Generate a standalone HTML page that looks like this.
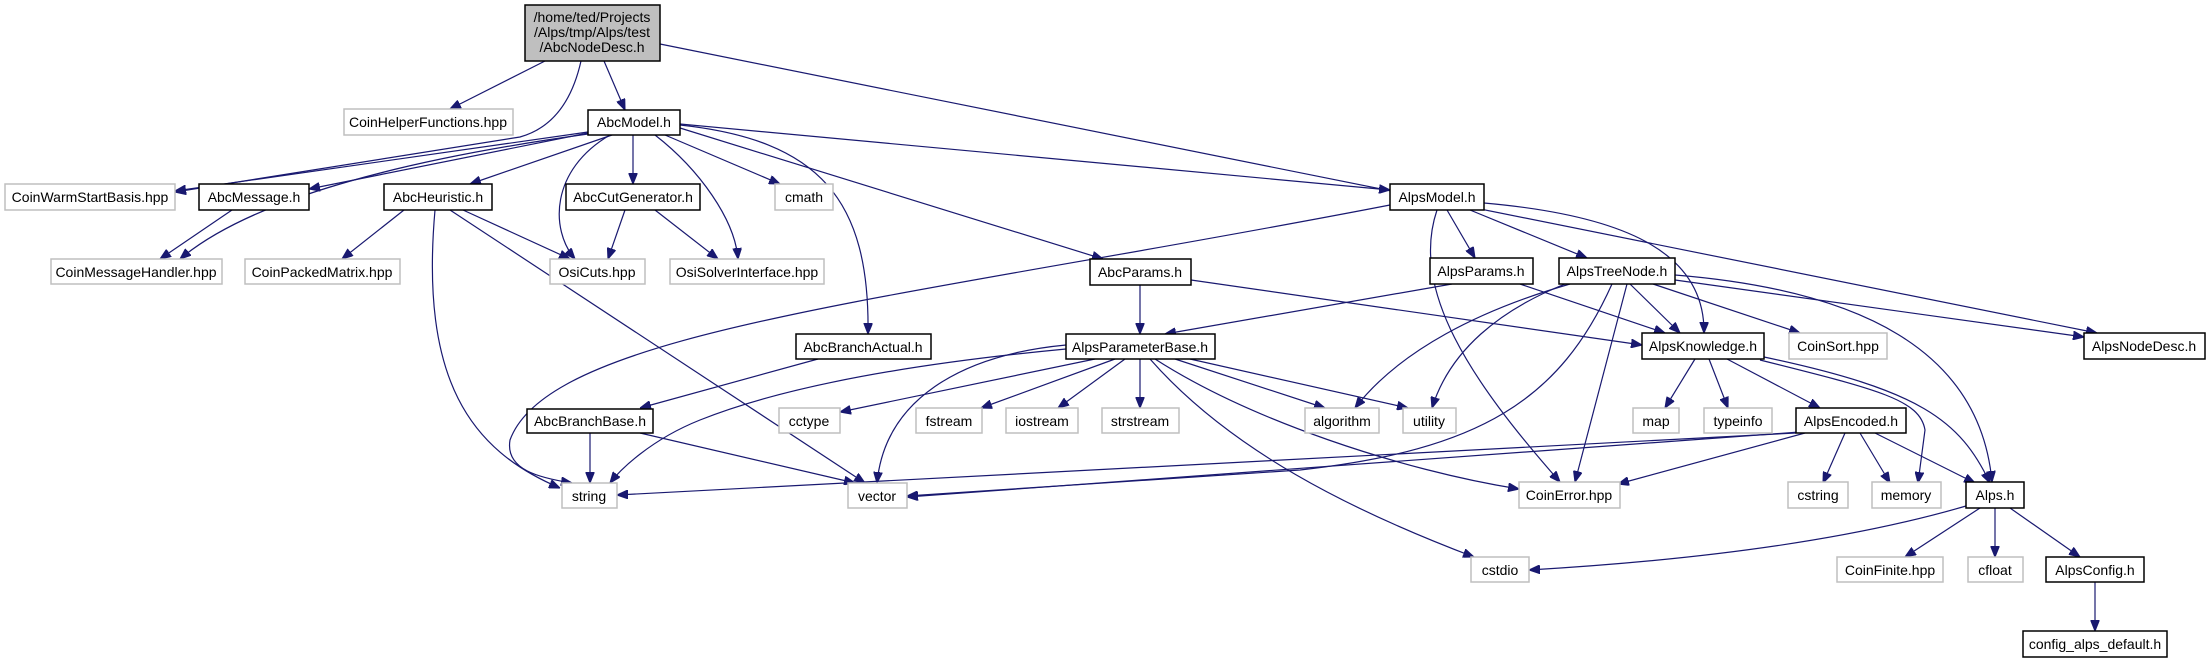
<!DOCTYPE html>
<html><head><meta charset="utf-8"><style>
html,body{margin:0;padding:0;background:#fff;}
svg{display:block;}
text{font-family:"Liberation Sans",Arial,sans-serif;font-size:14px;fill:#000;text-anchor:middle;}
.e{fill:none;stroke:#191970;stroke-width:1.2;marker-end:url(#a);}
.g{fill:#fff;stroke:#bfbfbf;stroke-width:1.5;}
.b{fill:#fff;stroke:#000;stroke-width:1.5;}
</style></head><body>
<svg width="2211" height="664" viewBox="0 0 2211 664" xmlns="http://www.w3.org/2000/svg">
<defs><marker id="a" viewBox="0 0 10 8" refX="10" refY="4" markerWidth="11" markerHeight="9" markerUnits="userSpaceOnUse" orient="auto"><path d="M0,0 L10,4 L0,8 z" fill="#191970" stroke="#191970"/></marker></defs>
<g>
<path class="e" d="M545,61 L450,109"/>
<path class="e" d="M604,61 L625,110"/>
<path class="e" d="M581,61 C570,110 545,130 520,137 L175,192"/>
<path class="e" d="M660,44 L2097,333"/>
<path class="e" d="M588,132 L175,191"/>
<path class="e" d="M588,133 L309,189"/>
<path class="e" d="M588,134 C400,160 250,200 180,259"/>
<path class="e" d="M612,135 L470,184"/>
<path class="e" d="M610,135 C550,170 550,230 575,259"/>
<path class="e" d="M633,135 L633,184"/>
<path class="e" d="M655,135 C700,170 735,220 738,259"/>
<path class="e" d="M665,135 L780,184"/>
<path class="e" d="M680,125 C820,140 870,200 868,334"/>
<path class="e" d="M680,128 L1103,259"/>
<path class="e" d="M680,124 L1390,190"/>
<path class="e" d="M232,210 L160,259"/>
<path class="e" d="M404,210 L342,259"/>
<path class="e" d="M463,210 L570,259"/>
<path class="e" d="M435,210 C420,380 470,450 560,488"/>
<path class="e" d="M450,210 L865,483"/>
<path class="e" d="M625,210 L608,259"/>
<path class="e" d="M655,210 L718,259"/>
<path class="e" d="M1390,205 C900,300 550,330 510,440 C505,470 540,478 572,483"/>
<path class="e" d="M1447,210 L1475,258"/>
<path class="e" d="M1470,210 L1587,258"/>
<path class="e" d="M1484,203 C1620,215 1705,250 1704,333"/>
<path class="e" d="M1437,210 C1410,290 1470,380 1560,482"/>
<path class="e" d="M1140,285 L1140,334"/>
<path class="e" d="M1191,280 L1642,345"/>
<path class="e" d="M1452,284 L1165,334"/>
<path class="e" d="M1520,284 L1665,333"/>
<path class="e" d="M818,359 L640,408"/>
<path class="e" d="M590,433 L590,483"/>
<path class="e" d="M640,433 L855,483"/>
<path class="e" d="M1066,349 C950,360 800,380 700,420 C650,440 620,470 610,483"/>
<path class="e" d="M1066,345 C960,355 885,400 877,483"/>
<path class="e" d="M1095,359 L840,412"/>
<path class="e" d="M1115,359 L981,408"/>
<path class="e" d="M1125,359 L1058,408"/>
<path class="e" d="M1140,359 L1140,408"/>
<path class="e" d="M1175,359 L1325,408"/>
<path class="e" d="M1190,359 L1408,408"/>
<path class="e" d="M1155,359 C1250,420 1400,470 1519,489"/>
<path class="e" d="M1150,359 C1230,450 1350,510 1474,557"/>
<path class="e" d="M1630,284 L1680,333"/>
<path class="e" d="M1653,284 L1800,333"/>
<path class="e" d="M1675,280 L2084,337"/>
<path class="e" d="M1675,275 C1860,290 1980,350 1992,482"/>
<path class="e" d="M1570,284 C1480,310 1400,350 1355,408"/>
<path class="e" d="M1565,284 C1500,310 1450,350 1432,408"/>
<path class="e" d="M1612,284 C1560,400 1480,450 1300,470 L907,496"/>
<path class="e" d="M1627,284 L1575,482"/>
<path class="e" d="M1695,359 L1665,408"/>
<path class="e" d="M1709,359 L1728,408"/>
<path class="e" d="M1727,359 L1820,408"/>
<path class="e" d="M1760,360 C1880,390 1920,400 1925,430 L1918,483"/>
<path class="e" d="M1764,357 C1920,390 1960,420 1990,483"/>
<path class="e" d="M1796,433 L617,495"/>
<path class="e" d="M1800,432 L907,497"/>
<path class="e" d="M1805,433 L1618,484"/>
<path class="e" d="M1845,433 L1823,483"/>
<path class="e" d="M1860,433 L1890,483"/>
<path class="e" d="M1875,433 L1975,483"/>
<path class="e" d="M1966,506 C1850,540 1700,560 1529,570"/>
<path class="e" d="M1980,508 L1905,557"/>
<path class="e" d="M1995,508 L1995,557"/>
<path class="e" d="M2010,508 L2080,557"/>
<path class="e" d="M2095,582 L2095,631"/>
</g>
<g>
<rect x="525" y="5" width="135" height="56" fill="#bfbfbf" stroke="#000" stroke-width="1.5"/>
<text x="592" y="22">/home/ted/Projects</text>
<text x="592" y="37">/Alps/tmp/Alps/test</text>
<text x="592" y="52">/AbcNodeDesc.h</text>

<rect class="g" x="344" y="109" width="169" height="26"/><text x="428" y="127">CoinHelperFunctions.hpp</text>
<rect class="b" x="588" y="110" width="92" height="25"/><text x="634" y="127">AbcModel.h</text>
<rect class="g" x="5" y="184" width="170" height="26"/><text x="90" y="202">CoinWarmStartBasis.hpp</text>
<rect class="b" x="199" y="184" width="110" height="26"/><text x="254" y="202">AbcMessage.h</text>
<rect class="b" x="384" y="184" width="108" height="26"/><text x="438" y="202">AbcHeuristic.h</text>
<rect class="b" x="566" y="184" width="134" height="26"/><text x="633" y="202">AbcCutGenerator.h</text>
<rect class="g" x="775" y="184" width="58" height="26"/><text x="804" y="202">cmath</text>
<rect class="b" x="1390" y="184" width="94" height="26"/><text x="1437" y="202">AlpsModel.h</text>

<rect class="g" x="51" y="259" width="171" height="25"/><text x="136" y="277">CoinMessageHandler.hpp</text>
<rect class="g" x="245" y="259" width="155" height="25"/><text x="322" y="277">CoinPackedMatrix.hpp</text>
<rect class="g" x="550" y="259" width="95" height="25"/><text x="597" y="277">OsiCuts.hpp</text>
<rect class="g" x="670" y="259" width="154" height="25"/><text x="747" y="277">OsiSolverInterface.hpp</text>
<rect class="b" x="1090" y="259" width="101" height="26"/><text x="1140" y="277">AbcParams.h</text>
<rect class="b" x="1430" y="258" width="103" height="26"/><text x="1481" y="276">AlpsParams.h</text>
<rect class="b" x="1559" y="258" width="116" height="26"/><text x="1617" y="276">AlpsTreeNode.h</text>

<rect class="b" x="796" y="334" width="135" height="25"/><text x="863" y="352">AbcBranchActual.h</text>
<rect class="b" x="1066" y="334" width="149" height="25"/><text x="1140" y="352">AlpsParameterBase.h</text>
<rect class="b" x="1642" y="333" width="122" height="26"/><text x="1703" y="351">AlpsKnowledge.h</text>
<rect class="g" x="1789" y="333" width="98" height="26"/><text x="1838" y="351">CoinSort.hpp</text>
<rect class="b" x="2084" y="333" width="121" height="26"/><text x="2144" y="351">AlpsNodeDesc.h</text>

<rect class="b" x="527" y="409" width="126" height="24"/><text x="590" y="426">AbcBranchBase.h</text>
<rect class="g" x="779" y="408" width="61" height="25"/><text x="809" y="426">cctype</text>
<rect class="g" x="916" y="408" width="66" height="25"/><text x="949" y="426">fstream</text>
<rect class="g" x="1006" y="408" width="72" height="25"/><text x="1042" y="426">iostream</text>
<rect class="g" x="1102" y="408" width="77" height="25"/><text x="1140" y="426">strstream</text>
<rect class="g" x="1305" y="408" width="74" height="25"/><text x="1342" y="426">algorithm</text>
<rect class="g" x="1403" y="408" width="53" height="25"/><text x="1429" y="426">utility</text>
<rect class="g" x="1633" y="408" width="46" height="25"/><text x="1656" y="426">map</text>
<rect class="g" x="1704" y="408" width="68" height="25"/><text x="1738" y="426">typeinfo</text>
<rect class="b" x="1796" y="408" width="110" height="25"/><text x="1851" y="426">AlpsEncoded.h</text>

<rect class="g" x="562" y="483" width="55" height="25"/><text x="589" y="501">string</text>
<rect class="g" x="848" y="483" width="59" height="25"/><text x="877" y="501">vector</text>
<rect class="g" x="1519" y="482" width="101" height="26"/><text x="1569" y="500">CoinError.hpp</text>
<rect class="g" x="1788" y="482" width="60" height="26"/><text x="1818" y="500">cstring</text>
<rect class="g" x="1872" y="482" width="69" height="26"/><text x="1906" y="500">memory</text>
<rect class="b" x="1966" y="482" width="58" height="26"/><text x="1995" y="500">Alps.h</text>

<rect class="g" x="1471" y="557" width="58" height="25"/><text x="1500" y="575">cstdio</text>
<rect class="g" x="1837" y="557" width="106" height="25"/><text x="1890" y="575">CoinFinite.hpp</text>
<rect class="g" x="1968" y="557" width="55" height="25"/><text x="1995" y="575">cfloat</text>
<rect class="b" x="2046" y="557" width="98" height="25"/><text x="2095" y="575">AlpsConfig.h</text>
<rect class="b" x="2023" y="631" width="144" height="26"/><text x="2095" y="649">config_alps_default.h</text>
</g>
</svg>
</body></html>
